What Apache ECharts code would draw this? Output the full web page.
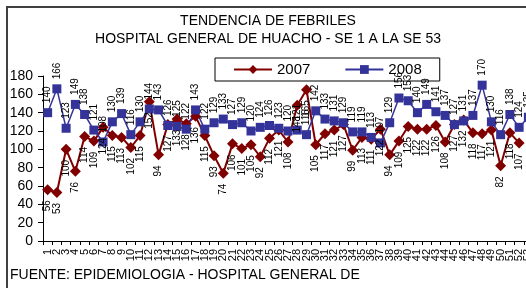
<!DOCTYPE html>
<html>
<head>
<meta charset="utf-8">
<script src="https://cdn.jsdelivr.net/npm/echarts@6/dist/echarts.min.js"></script>
<style>
  html, body { margin: 0; padding: 0; background: #fff; overflow: hidden; }
  #chart { width: 536px; height: 288px; }
</style>
</head>
<body>
<div id="chart"></div>
<script>
// semanas epidemiologicas 1..53
var weeks = [];
for (var i = 1; i <= 53; i++) weeks.push(String(i));

var febriles2007 = [56, 53, 100, 76, 114, 109, 124, 115, 113, 102, 115, 152, 94, 127, 133, 128, 136, 115, 93, 74,
  106, 101, 105, 92, 112, 121, 108, 148, 165, 105, 117, 121, 127, 99, 113, 111, 122, 94, 109, 125,
  122, 122, 126, 108, 127, 132, 118, 117, 121, 82, 118, 107];

var febriles2008 = [140, 166, 123, 149, 138, 121, 108, 130, 139, 116, 130, 144, 143, 126, 125, 122, 143, 122, 129, 133,
  127, 129, 120, 124, 126, 123, 120, 121, 116, 142, 133, 131, 129, 119, 119, 113, 107, 129, 156, 153,
  140, 149, 141, 137, 127, 131, 137, 170, 130, 116, 138, 124, 135];

var yTicks = { min: 0, max: 180, interval: 20 };

var font = "'Liberation Sans', Arial, sans-serif";
var myChart = echarts.init(document.getElementById("chart"));

myChart.setOption({
  backgroundColor: "#fff",
  animation: false,
  textStyle: { fontFamily: font },
  title: {
    text: "TENDENCIA DE FEBRILES",
    subtext: "HOSPITAL GENERAL DE HUACHO - SE 1 A LA SE 53",
    left: "center",
    top: 14,
    padding: 0,
    itemGap: 4,
    textStyle: { fontSize: 14, fontWeight: "normal", color: "#000", fontFamily: font },
    subtextStyle: { fontSize: 14, color: "#000", fontFamily: font }
  },
  legend: {
    left: 215,
    top: 58,
    padding: [4, 18, 4, 18],
    itemWidth: 38,
    itemHeight: 11,
    itemGap: 34,
    borderColor: "#000",
    borderWidth: 1,
    textStyle: { fontSize: 15, color: "#000", fontFamily: font },
    data: ["2007", "2008"]
  },
  graphic: [
    {
      type: "rect",
      shape: { x: 7, y: 7, width: 600, height: 400 },
      style: { fill: "none", stroke: "#404040", lineWidth: 2 },
      silent: true
    },
    {
      type: "text",
      left: 10,
      top: 268,
      style: {
        text: "FUENTE: EPIDEMIOLOGIA - HOSPITAL GENERAL DE",
        fontSize: 14,
        fill: "#000",
        fontFamily: font
      }
    }
  ],
  grid: { left: 43, right: 3, top: 76, bottom: 47 },
  xAxis: {
    type: "category",
    data: weeks,
    boundaryGap: true,
    axisLine: { lineStyle: { color: "#000", width: 1 } },
    axisTick: { show: true, length: 4, lineStyle: { color: "#000" } },
    axisLabel: { interval: 0, rotate: 90, fontSize: 11, color: "#000", margin: 8 },
    splitLine: { show: false }
  },
  yAxis: {
    type: "value",
    min: yTicks.min,
    max: yTicks.max,
    interval: yTicks.interval,
    axisLine: { show: true, lineStyle: { color: "#000", width: 1 } },
    axisTick: { show: true, length: 5, lineStyle: { color: "#000" } },
    axisLabel: { fontSize: 14, color: "#000", margin: 10 },
    splitLine: { show: false }
  },
  series: [
    {
      name: "2007",
      type: "line",
      data: febriles2007,
      symbol: "diamond",
      symbolSize: 11,
      itemStyle: { color: "#800000" },
      lineStyle: { color: "#800000", width: 2 },
      label: {
        show: true,
        position: "bottom",
        rotate: 90,
        align: "right",
        verticalAlign: "middle",
        distance: 5,
        fontSize: 10,
        color: "#000"
      }
    },
    {
      name: "2008",
      type: "line",
      data: febriles2008,
      symbol: "rect",
      symbolSize: 9,
      itemStyle: { color: "#333399" },
      lineStyle: { color: "#333399", width: 1.5 },
      label: {
        show: true,
        position: "top",
        rotate: 90,
        align: "left",
        verticalAlign: "middle",
        distance: 5,
        fontSize: 10,
        color: "#000"
      }
    }
  ]
});
</script>
</body>
</html>
